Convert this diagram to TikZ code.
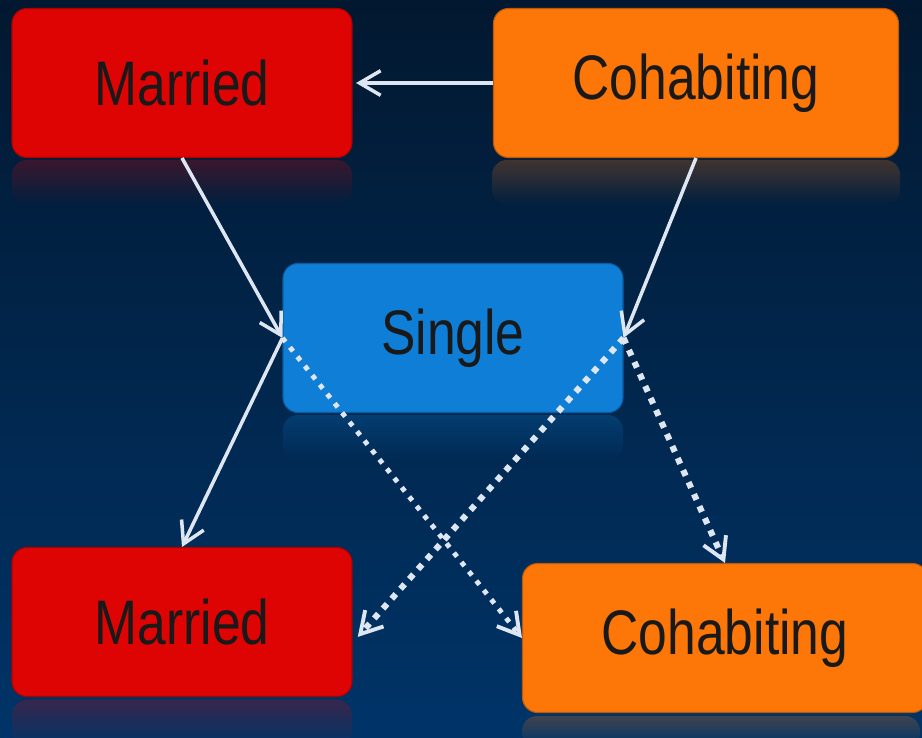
\documentclass[tikz,border=0pt]{standalone}
\usepackage{fontspec}
\setmainfont{Liberation Sans}
\usetikzlibrary{arrows.meta,fadings}
\definecolor{bgtop}{RGB}{2,24,48}
\definecolor{bgbot}{RGB}{0,52,104}
\definecolor{marriedcol}{RGB}{222,4,4}
\definecolor{cohabcol}{RGB}{252,118,8}
\definecolor{singlecol}{RGB}{14,126,214}
\definecolor{arrowcol}{RGB}{222,230,242}
\newcommand{\statetext}[1]{\scalebox{0.82}[1]{#1}}

\tikzset{
  statebox/.style={rounded corners=0.3cm, inner sep=0pt, minimum height=2.98cm,
    line width=0.6pt, font=\fontsize{35.8}{40}\selectfont, text=black!90},
  marriedbox/.style={statebox, fill=marriedcol, draw=marriedcol!75!black, minimum width=6.8cm},
  cohabbox/.style={statebox, fill=cohabcol, draw=cohabcol!75!black, minimum width=8.1cm},
  singlebox/.style={statebox, fill=singlecol, draw=singlecol!75!black, minimum width=6.8cm},
  reflect/.style={fill=#1, fill opacity=0.25, path fading=south, rounded corners=0.3cm},
  link/.style={draw=arrowcol, line width=2pt,
    -{Straight Barb[length=12pt,width=14pt,line width=2pt]}},
  dotlink/.style={draw=arrowcol, line width=#1, dash pattern=on #1 off 4pt,
    -{Straight Barb[length=12pt,width=14pt,line width=2.2pt]}},
}

\begin{document}
\begin{tikzpicture}
\useasboundingbox (0,0) rectangle (18.44,14.74);
\shade[top color=bgtop, bottom color=bgbot] (0,0) rectangle (18.44,14.74);

% reflections
\fill[reflect=marriedcol] (0.24,11.54) rectangle (7.04,10.64);
\fill[reflect=cohabcol] (9.84,11.54) rectangle (18.0,10.64);
\fill[reflect=singlecol] (5.66,6.44) rectangle (12.46,5.54);
\fill[reflect=marriedcol] (0.24,0.74) rectangle (7.04,-0.2);
\fill[reflect=cohabcol] (10.44,0.42) rectangle (18.4,-0.2);

% states
\node[marriedbox] (marriedtop) at (3.64,13.08) {\statetext{Married}};
\node[cohabbox] (cohabtop) at (13.92,13.08) {\statetext{Cohabiting}};
\node[singlebox] (single) at (9.06,7.98) {\statetext{Single}};
\node[marriedbox] (marriedbot) at (3.64,2.30) {\statetext{Married}};
\node[cohabbox] (cohabbot) at (14.5,1.98) {\statetext{Cohabiting}};

% transitions
\draw[link, shorten >=2pt] (cohabtop.west) -- (marriedtop.east);
\draw[link] (marriedtop.south) -- (single.west);
\draw[link] (cohabtop.south) -- (single.east);
\draw[link] (single.west) -- (marriedbot.north);
\draw[dotlink=2.8pt] (single.west) -- (cohabbot.west);
\draw[dotlink=3.5pt] (single.east) -- ([xshift=3pt]marriedbot.-5);
\draw[dotlink=3.5pt] (single.east) -- (cohabbot.north);
\end{tikzpicture}
\end{document}
